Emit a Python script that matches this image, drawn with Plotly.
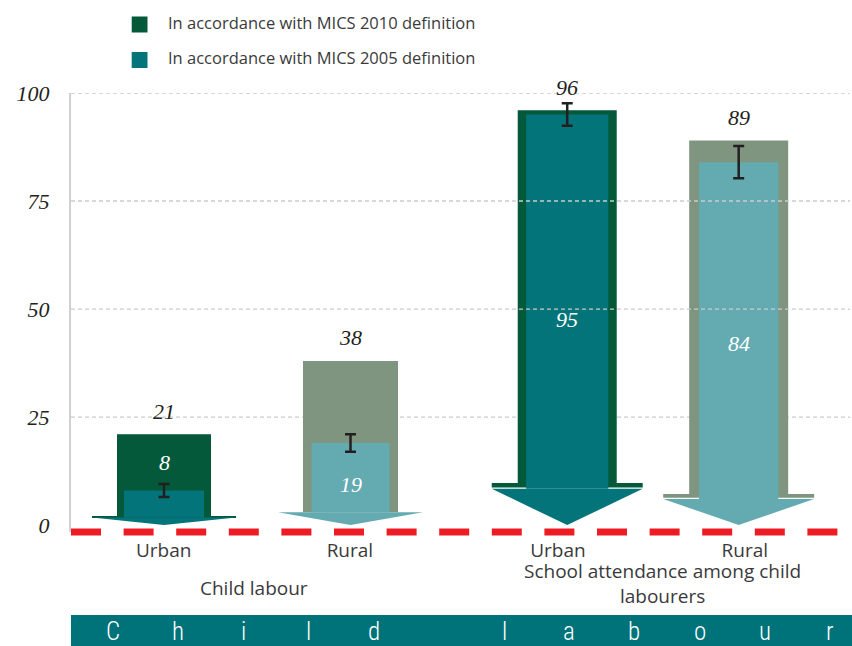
import plotly.graph_objects as go

# ---------------- data ----------------
subgroups = ["Urban", "Rural", "Urban", "Rural"]
groups = ["Child labour", "School attendance among child<br>labourers"]
mics2010 = [21, 38, 96, 89]
mics2005 = [8, 19, 95, 84]
mics2005_err = [1.5, 2.0, 2.6, 3.75]
series_names = ["In accordance with MICS 2010 definition",
                "In accordance with MICS 2005 definition"]
y_ticks = [0, 25, 50, 75, 100]
banner_text = "Child labour"

# ---------------- layout / style ----------------
W, H = 852, 646
ML, MR, MT, MB = 71, 2, 93, 114
PW = W - ML - MR
PH = H - MT - MB
Y_MIN, Y_MAX = -1.6, 100

DG = "#03593a"     # dark green (urban, 2010)
TEAL = "#02747a"   # teal (urban, 2005)
GG = "#7f9580"     # grey green (rural, 2010)
LTEAL = "#63abb1"  # light teal (rural, 2005)
RED = "#ed1c24"
BANNER = "#00737a"
INK = "#231f20"
GREY_TXT = "#3a3a3a"

x_pos = [11.94, 35.88, 63.70, 85.71]
label_pos = [11.9, 35.8, 62.5, 86.5]
outer_w = [12.07, 12.2, 12.71, 12.71]
inner_w = [10.27, 10.01, 10.56, 10.18]
wing_w = [18.49, 18.61, 19.38, 19.38]
strip_top = [2.1, 2.96, 9.75, 7.2]
strip_bot = [1.74, 2.96, 8.7, 6.3]
head_top = [1.74, 2.96, 8.4, 6.05]
outer_col = [DG, GG, DG, GG]
inner_col = [TEAL, LTEAL, TEAL, LTEAL]

SERIF = "Liberation Serif, Times New Roman, serif"
SANS = "Open Sans, Noto Sans, sans-serif"


def px_x(px):
    return (px - ML) / PW


def px_y(py):
    return (H - MB - py) / PH


fig = go.Figure()

# outer (2010) shafts
fig.add_trace(go.Bar(
    x=x_pos, y=[v - b for v, b in zip(mics2010, strip_top)], base=strip_top,
    width=outer_w, marker=dict(color=outer_col, line=dict(width=0)),
    hoverinfo="skip", showlegend=False))
# outer wing strips
fig.add_trace(go.Bar(
    x=x_pos, y=[t - b for t, b in zip(strip_top, strip_bot)], base=strip_bot,
    width=wing_w, marker=dict(color=outer_col, line=dict(width=0)),
    hoverinfo="skip", showlegend=False))
# inner (2005) shafts
fig.add_trace(go.Bar(
    x=x_pos, y=[v - b for v, b in zip(mics2005, head_top)], base=head_top,
    width=inner_w, marker=dict(color=inner_col, line=dict(width=0)),
    hoverinfo="skip", showlegend=False))
# arrow heads
for xc, ww, ht, col in zip(x_pos, wing_w, head_top, inner_col):
    fig.add_trace(go.Scatter(
        x=[xc - ww / 2, xc + ww / 2, xc, xc - ww / 2],
        y=[ht, ht, 0, ht], mode="lines", fill="toself", fillcolor=col,
        line=dict(width=0, color=col), hoverinfo="skip", showlegend=False))
# error bars
fig.add_trace(go.Scatter(
    x=x_pos, y=mics2005, mode="markers",
    marker=dict(size=2, color="rgba(0,0,0,0)"),
    error_y=dict(type="data", array=mics2005_err, thickness=2.5, width=5.5,
                 color=INK),
    hoverinfo="skip", showlegend=False))

annotations = []
# value labels
for xc, v in zip(x_pos, mics2010):
    annotations.append(dict(x=xc, y=v, xref="x", yref="y", yshift=23,
                            text=str(v), showarrow=False, xanchor="center",
                            font=dict(family=SERIF, size=22, color=INK,
                                      style="italic")))
for xc, v, vo in zip(x_pos, mics2005, mics2010):
    ly = v / 2 if v >= 10 else (v + vo) / 2
    annotations.append(dict(x=xc, y=ly, xref="x", yref="y",
                            text=str(v), showarrow=False, xanchor="center",
                            font=dict(family=SERIF, size=22, color="white",
                                      style="italic")))
# group labels
annotations.append(dict(x=px_x(254), y=px_y(588), xref="paper", yref="paper",
                        text=groups[0], showarrow=False, xanchor="center",
                        yanchor="middle",
                        font=dict(family=SANS, size=19, color=GREY_TXT)))
annotations.append(dict(x=px_x(662), y=px_y(583), xref="paper", yref="paper",
                        text=groups[1], showarrow=False, xanchor="center",
                        yanchor="middle",
                        font=dict(family=SANS, size=19, color=GREY_TXT)))
# legend texts
for i, name in enumerate(series_names):
    annotations.append(dict(x=px_x(166), y=px_y(22 + 36 * i), xref="paper",
                            yref="paper", text=name, showarrow=False,
                            xanchor="left", yanchor="middle",
                            font=dict(family=SANS, size=16.5, color=GREY_TXT)))
# banner letters
n = len(banner_text)
for i, ch in enumerate(banner_text):
    if ch == " ":
        continue
    bx = 113 + i * (830 - 113) / (n - 1)
    annotations.append(dict(x=px_x(bx), y=px_y(631), xref="paper",
                            yref="paper", text=ch, showarrow=False,
                            xanchor="center", yanchor="middle",
                            font=dict(family="Liberation Sans Narrow, Roboto Condensed, Roboto, sans-serif",
                                      size=25, color="white", weight=300)))

shapes = []
# grid lines
for t in y_ticks:
    if t == 0:
        continue
    shapes.append(dict(type="line", xref="x", yref="y", x0=0, x1=100,
                       y0=t, y1=t, layer="below" if t < 50 else "above",
                       line=dict(color="#cccccc", width=1.3, dash="4px,3px")))
# zero line (red dashed)
shapes.append(dict(type="line", xref="paper", yref="paper", x0=0,
                   x1=px_x(838), y0=0, y1=0, layer="above",
                   line=dict(color=RED, width=7, dash="30px,22.6px")))
# legend squares
for i, col in enumerate([DG, TEAL]):
    shapes.append(dict(type="rect", xref="paper", yref="paper",
                       x0=px_x(131.7), x1=px_x(147.5),
                       y0=px_y(16.5 + 35.5 * i + 16), y1=px_y(16.5 + 35.5 * i),
                       fillcolor=col, line=dict(width=0)))
# banner
shapes.append(dict(type="rect", xref="paper", yref="paper", x0=0,
                   x1=px_x(W), y0=px_y(H), y1=px_y(615),
                   fillcolor=BANNER, line=dict(width=0), layer="below"))

fig.update_layout(
    width=W, height=H,
    margin=dict(l=ML, r=MR, t=MT, b=MB, pad=0),
    paper_bgcolor="white", plot_bgcolor="white",
    barmode="overlay", showlegend=False,
    annotations=annotations, shapes=shapes,
    xaxis=dict(range=[0, 100], tickvals=label_pos, ticktext=subgroups,
               showgrid=False, zeroline=False, showline=False,
               ticks="outside", ticklen=1, tickcolor="rgba(0,0,0,0)",
               tickfont=dict(family=SANS, size=19, color=GREY_TXT),
               fixedrange=True),
    yaxis=dict(range=[Y_MIN, Y_MAX], tickvals=y_ticks,
               ticktext=[str(t) for t in y_ticks],
               showgrid=False, zeroline=False, showline=True,
               linecolor="#d0d0d0", linewidth=2,
               ticks="outside", ticklen=15, tickcolor="rgba(0,0,0,0)",
               tickfont=dict(family=SERIF, size=22, color=INK, style="italic"),
               fixedrange=True),
)

fig.write_html(
    "out.html",
    config={"displayModeBar": False},
    post_script="document.body.style.margin='0';document.body.style.overflow='hidden';",
)
